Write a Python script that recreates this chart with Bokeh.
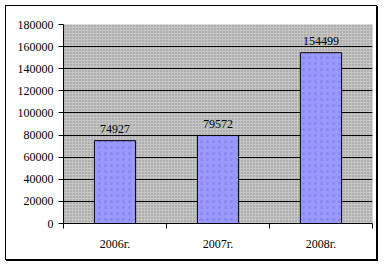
from bokeh.plotting import figure
from bokeh.models import FixedTicker, Range1d, BoxAnnotation, ColumnDataSource, LabelSet, NumeralTickFormatter
from bokeh.embed import file_html
from bokeh.resources import INLINE

categories = ["2006г.", "2007г.", "2008г."]
values = [74927, 79572, 154499]
y_ticks = [0, 20000, 40000, 60000, 80000, 100000, 120000, 140000, 160000, 180000]

xs = [i + 0.5 for i in range(len(categories))]
src = ColumnDataSource(dict(x=xs, v=values, lab=[str(v) for v in values]))

p = figure(width=372, height=255, output_backend="svg", toolbar_location=None,
           x_range=Range1d(0, len(categories)), y_range=Range1d(0, 180000),
           min_border_left=57, min_border_right=6, min_border_top=18, min_border_bottom=38,
           background_fill_color="#bdbdbd", border_fill_color="white", outline_line_color=None,
           styles={"margin": "5px 0 0 5px", "border": "1px solid black", "box-shadow": "1px 1px 0 #000"})

bg = BoxAnnotation(fill_color="#c6c6c6", fill_alpha=1, line_color=None,
                   hatch_pattern="dot", hatch_color="#8a8a8a", hatch_scale=3, hatch_weight=1,
                   level="image")
p.add_layout(bg)

p.vbar(x="x", top="v", width=0.4, bottom=0, source=src, fill_color="#9999FF",
       line_color="black", line_width=1,
       hatch_pattern="dot", hatch_color="#8787ee", hatch_scale=6, hatch_weight=0.4)

labels = LabelSet(x="x", y="v", text="lab", source=src, text_align="center", text_baseline="bottom",
                  y_offset=8, text_font="Liberation Serif", text_font_size="12px", text_color="black")
p.add_layout(labels)

# y axis
p.yaxis.ticker = FixedTicker(ticks=y_ticks)
p.yaxis.formatter = NumeralTickFormatter(format="0")
p.yaxis.major_tick_out = 5
p.yaxis.major_tick_in = 0
p.yaxis.minor_tick_line_color = None
p.yaxis.axis_line_color = "black"
p.yaxis.major_label_text_font = "Liberation Serif"
p.yaxis.major_label_text_font_size = "12px"
p.yaxis.major_label_text_color = "black"
p.yaxis.major_label_standoff = 5

# x axis
p.xaxis.ticker = FixedTicker(ticks=xs, minor_ticks=list(range(len(categories) + 1)))
p.xaxis.major_label_overrides = {x: c for x, c in zip(xs, categories)}
p.xaxis.major_tick_line_color = None
p.xaxis.minor_tick_out = 5
p.xaxis.minor_tick_in = 0
p.xaxis.minor_tick_line_color = "black"
p.xaxis.axis_line_color = "black"
p.xaxis.major_label_text_font = "Liberation Serif"
p.xaxis.major_label_text_font_size = "12px"
p.xaxis.major_label_text_color = "black"
p.xaxis.major_label_standoff = 7

p.xgrid.grid_line_color = None
p.ygrid.ticker = FixedTicker(ticks=y_ticks[1:-1])
p.ygrid.grid_line_color = "black"
p.ygrid.grid_line_width = 1

open("out.html", "w").write(file_html(p, INLINE))
